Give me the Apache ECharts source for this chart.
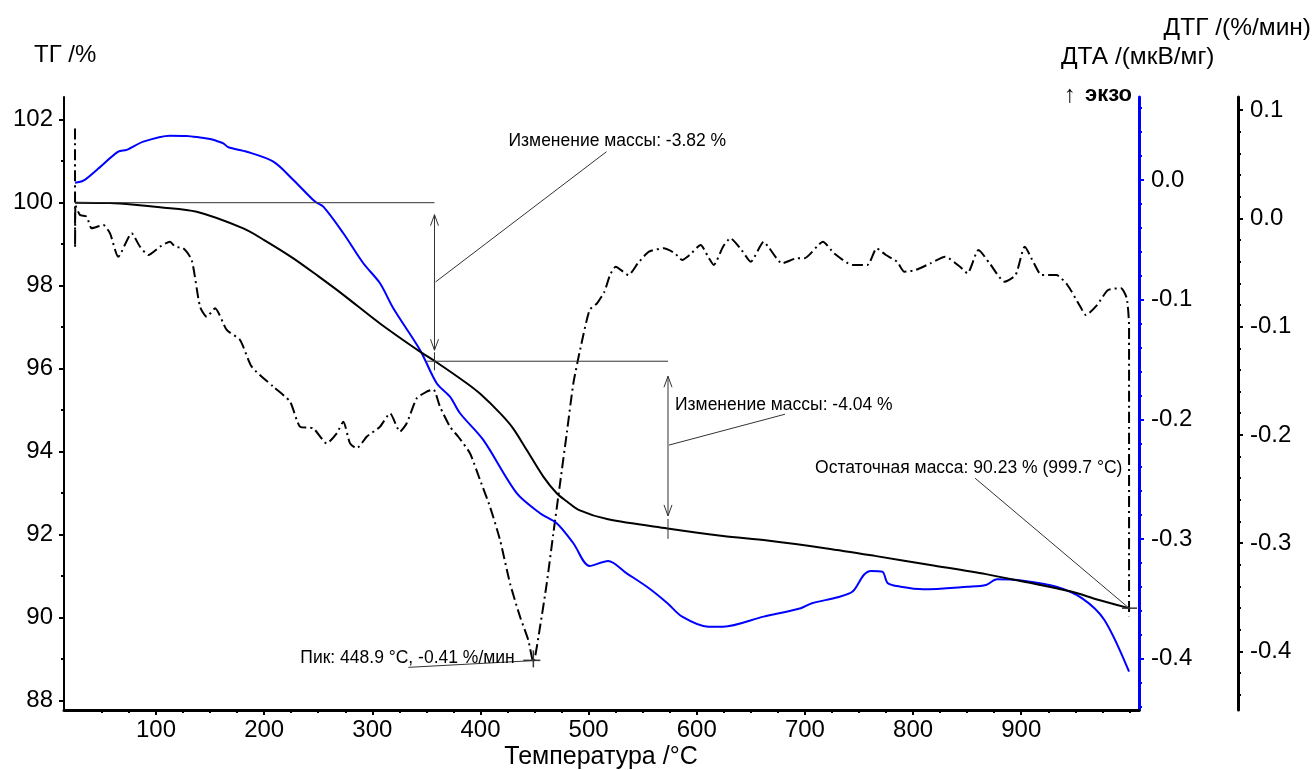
<!DOCTYPE html>
<html><head><meta charset="utf-8">
<script src="https://cdn.jsdelivr.net/npm/echarts@6/dist/echarts.min.js"></script>
<style>html,body{margin:0;padding:0;background:#fff}#c{width:1316px;height:770px}</style>
</head><body><div id="c"></div>
<script>
// ---------- DATA ----------
const xMajorTicks = [100,200,300,400,500,600,700,800,900];
const xMinorTicks = [50,75,125,150,175,225,250,275,325,350,375,425,450,475,525,550,575,625,650,675,725,750,775,825,850,875,925,950,975,1000];
const tgMajorTicks = [88,90,92,94,96,98,100,102];
const tgMinorTicks = [89,91,93,95,97,99,101];
const dtaMajorTicks = [0,-0.1,-0.2,-0.3,-0.4];
const dtaMinorTicks = [0.06,0.04,0.02,-0.02,-0.04,-0.06,-0.08,-0.12,-0.14,-0.16,-0.18,-0.22,-0.24,-0.26,-0.28,-0.32,-0.34,-0.36,-0.38,-0.42,-0.44];
const dtgMajorTicks = [0.1,0,-0.1,-0.2,-0.3,-0.4];
const dtgMinorTicks = [0.08,0.06,0.04,0.02,-0.02,-0.04,-0.06,-0.08,-0.12,-0.14,-0.16,-0.18,-0.22,-0.24,-0.26,-0.28,-0.32,-0.34,-0.36,-0.38,-0.42,-0.44];

// TG, % vs temperature
const tgData = [[25.1,100.0],[57.5,99.99],[80,99.95],[103.7,99.89],[137.6,99.78],[180.7,99.38],[200,99.1],[227,98.66],[250,98.23],[273.2,97.78],[307.1,97.09],[344.1,96.41],[358,96.18],[387.3,95.65],[400,95.39],[418.1,94.93],[430,94.57],[442.8,94.04],[458.1,93.40],[470.5,93.0],[480,92.80],[490.7,92.60],[518,92.37],[572.9,92.15],[624.3,91.97],[665.3,91.86],[720.2,91.67],[764.6,91.49],[816,91.27],[867.4,91.05],[901.7,90.87],[946.1,90.63],[970.1,90.44],[999.7,90.23]];
// DTA, mkV/mg
const dtaData = [[25.1,-0.0023],[32.8,-0.0006],[45.2,0.0084],[65.1,0.0236],[72.9,0.0251],[88.3,0.0320],[112.9,0.0370],[128.4,0.0368],[140.7,0.0355],[150,0.0343],[156.1,0.0326],[162.2,0.0306],[166.9,0.0273],[183.9,0.0236],[208.5,0.0153],[227,0.0],[247,-0.0181],[254.7,-0.0223],[273.2,-0.0445],[291.7,-0.0696],[307.1,-0.0863],[319.4,-0.1072],[344.1,-0.1420],[359.5,-0.1698],[371.8,-0.1810],[381.1,-0.1949],[402.6,-0.2172],[433.5,-0.2617],[455.1,-0.2784],[470.5,-0.2868],[485.9,-0.3035],[500.9,-0.3225],[518,-0.3183],[535.2,-0.3286],[555.8,-0.3411],[572.9,-0.3536],[586.5,-0.3648],[610.5,-0.3732],[624.3,-0.3732],[661.9,-0.3648],[696.1,-0.3578],[706.5,-0.3536],[730.4,-0.3486],[744.1,-0.3439],[754.4,-0.3300],[761.2,-0.3266],[771.5,-0.3272],[776.7,-0.3369],[788.6,-0.3398],[809.2,-0.3419],[850.3,-0.3398],[867.4,-0.3383],[877.6,-0.3336],[901.7,-0.3348],[932.5,-0.3398],[956.4,-0.3495],[976.9,-0.3676],[999.7,-0.4108]];
// DTG, %/min
const dtgData = [[25.1,0.083],[25.2,-0.027],[25.5,0.012],[29.7,0.003],[35.9,0.0015],[40.5,-0.0092],[51.3,-0.0062],[57.5,-0.0139],[65.1,-0.0355],[77.5,-0.0139],[85.2,-0.0262],[92.9,-0.0339],[103.7,-0.0262],[112.9,-0.0216],[117.6,-0.0262],[125.2,-0.0277],[133,-0.0385],[140.7,-0.0816],[146.9,-0.0909],[154.6,-0.0831],[165.4,-0.1031],[177.7,-0.1124],[188.5,-0.1370],[208.5,-0.1555],[223.9,-0.1693],[233.1,-0.1924],[245.4,-0.1939],[257.8,-0.2078],[267.1,-0.1985],[273.2,-0.1878],[279.4,-0.2078],[285.6,-0.2124],[294.8,-0.2017],[307.1,-0.1924],[316.4,-0.1801],[325.6,-0.1970],[331.8,-0.1893],[341.1,-0.1662],[350.3,-0.1601],[356.4,-0.1579],[362.6,-0.1740],[371.8,-0.1924],[379.5,-0.2017],[390.3,-0.2170],[399.6,-0.2416],[408.8,-0.2663],[418.1,-0.2970],[427.3,-0.3370],[436.6,-0.3679],[444.2,-0.3894],[448.9,-0.41],[455.1,-0.3771],[461.3,-0.3370],[467.4,-0.2909],[473.6,-0.2447],[479.8,-0.1985],[485.9,-0.1524],[492.1,-0.1216],[500.9,-0.0847],[507.8,-0.0785],[514.6,-0.0678],[519.8,-0.0524],[525,-0.0447],[536.9,-0.0524],[545.5,-0.0416],[555.8,-0.0308],[569.4,-0.0277],[579.7,-0.0323],[586.5,-0.0385],[593.4,-0.0339],[603.6,-0.0247],[610.5,-0.0355],[615.7,-0.0431],[624.3,-0.0262],[631.1,-0.0185],[641.4,-0.0293],[649.9,-0.0401],[661.9,-0.0216],[667.1,-0.0277],[679,-0.0416],[692.7,-0.0369],[699.5,-0.0369],[716.7,-0.0216],[726.9,-0.0323],[744.1,-0.0431],[757.8,-0.0431],[766.4,-0.0277],[774.9,-0.0339],[785.2,-0.0401],[792,-0.0493],[802.4,-0.0477],[816,-0.0416],[829.7,-0.0355],[843.4,-0.0447],[850.3,-0.0508],[860.5,-0.0293],[870.8,-0.0416],[884.5,-0.0585],[894.8,-0.0524],[903.3,-0.0262],[911.8,-0.0416],[918.8,-0.0524],[932.5,-0.0524],[942.7,-0.0616],[954.7,-0.0816],[959.8,-0.0893],[970.1,-0.0801],[980.3,-0.0662],[992.3,-0.0646],[997.6,-0.0739],[999.7,-0.1001],[999.7,-0.3674]];

// annotations (data coordinates)
const massSteps = [[357.5, 100, 96.18], [573.4, 96.18, 92.14]]; // [T, from, to]
const stepTexts = ['Изменение массы: -3.82 %', 'Изменение массы: -4.04 %'];
const residual = [999.7, 90.23];
const residualText = 'Остаточная масса: 90.23 % (999.7 °C)';
const peak = [448.9, -0.41];
const peakText = 'Пик: 448.9 °C, -0.41 %/мин';

// ---------- CHART ----------
const FONT = '"Liberation Sans", Arial, sans-serif';
const X_MIN = 14.93, X_MAX = 1008.9;
const TG_MIN = 87.776, TG_MAX = 102.547;
const DTA_MIN = -0.4428, DTA_MAX = 0.0693;
const DTG_MIN = -0.454, DTG_MAX = 0.112;

const chart = echarts.init(document.getElementById('c'), null, {renderer: 'canvas'});
const lbl = (extra) => Object.assign({fontSize: 24, color: '#000', fontFamily: FONT}, extra);
const f1 = v => (Math.abs(v) < 1e-9 ? 0 : v).toFixed(1);

function yAx(o) {
  return Object.assign({type: 'value', splitLine: {show: false}, axisLine: {show: true, onZero: false}}, o);
}

chart.setOption({
  animation: false,
  backgroundColor: '#fff',
  grid: {left: 64, right: 177, top: 97, bottom: 60},
  xAxis: [
    {type: 'value', min: X_MIN, max: X_MAX, position: 'bottom', offset: 0,
     axisLine: {onZero: false, lineStyle: {color: '#000', width: 3}},
     axisTick: {customValues: xMajorTicks, length: 5, lineStyle: {color: '#000', width: 2}},
     axisLabel: lbl({customValues: xMajorTicks, margin: 8}),
     splitLine: {show: false}},
    {type: 'value', min: X_MIN, max: X_MAX, position: 'bottom', offset: 0,
     axisLine: {show: false, onZero: false},
     axisTick: {customValues: xMinorTicks, length: 3, lineStyle: {color: '#000', width: 2}},
     axisLabel: {show: false}, splitLine: {show: false}}
  ],
  yAxis: [
    yAx({min: TG_MIN, max: TG_MAX, position: 'left', offset: 0,
      axisLine: {onZero: false, lineStyle: {color: '#000', width: 2}},
      axisTick: {customValues: tgMajorTicks, length: 5, lineStyle: {color: '#000', width: 2}},
      axisLabel: lbl({customValues: tgMajorTicks, margin: 11})}),
    yAx({min: DTA_MIN, max: DTA_MAX, position: 'right', offset: 0,
      axisLine: {onZero: false, lineStyle: {color: '#0000ff', width: 3}},
      axisTick: {customValues: dtaMajorTicks, length: 5, lineStyle: {color: '#0000ff', width: 2}},
      axisLabel: lbl({customValues: dtaMajorTicks, margin: 12, formatter: f1})}),
    yAx({min: DTG_MIN, max: DTG_MAX, position: 'right', offset: 99,
      axisLine: {onZero: false, lineStyle: {color: '#000', width: 3}},
      axisTick: {customValues: dtgMajorTicks, length: 5, lineStyle: {color: '#000', width: 2}},
      axisLabel: lbl({customValues: dtgMajorTicks, margin: 12, formatter: f1})}),
    yAx({min: TG_MIN, max: TG_MAX, position: 'left', offset: 0, axisLine: {show: false, onZero: false},
      axisTick: {customValues: tgMinorTicks, length: 3, lineStyle: {color: '#000', width: 2}}, axisLabel: {show: false}}),
    yAx({min: DTA_MIN, max: DTA_MAX, position: 'right', offset: 0, axisLine: {show: false, onZero: false},
      axisTick: {customValues: dtaMinorTicks, length: 3, lineStyle: {color: '#0000ff', width: 2}}, axisLabel: {show: false}}),
    yAx({min: DTG_MIN, max: DTG_MAX, position: 'right', offset: 99, axisLine: {show: false, onZero: false},
      axisTick: {customValues: dtgMinorTicks, length: 3, lineStyle: {color: '#000', width: 2}}, axisLabel: {show: false}})
  ],
  series: [
    {name: 'ДТА', type: 'line', xAxisIndex: 0, yAxisIndex: 1, data: dtaData, symbol: 'none', smooth: 0.3,
     lineStyle: {color: '#0000ff', width: 2}, z: 3},
    {name: 'ДТГ', type: 'line', xAxisIndex: 0, yAxisIndex: 2, data: dtgData, symbol: 'none', smooth: 0.2,
     lineStyle: {color: '#000', width: 2, type: [11, 4, 2, 4]}, z: 2},
    {name: 'ТГ', type: 'line', xAxisIndex: 0, yAxisIndex: 0, data: tgData, symbol: 'none', smooth: 0.3,
     lineStyle: {color: '#000', width: 2}, z: 4}
  ]
});

// ---------- ANNOTATIONS (positioned through the axes' scales) ----------
const P = (t, v, yi) => chart.convertToPixel({xAxisIndex: 0, yAxisIndex: yi || 0}, [t, v]);
const G = [];
const LC = '#333';
function ln(x1, y1, x2, y2, w) { G.push({type: 'line', silent: true, z: 100, shape: {x1, y1, x2, y2}, style: {stroke: LC, lineWidth: w || 1}}); }
function head(x, y, dir) { // dir -1: points up, +1: points down
  G.push({type: 'polyline', silent: true, z: 100, shape: {points: [[x - 4, y - dir * 11], [x, y], [x + 4, y - dir * 11]]}, style: {stroke: LC, lineWidth: 1, fill: null}});
}
function txt(x, y, s, size, align, weight) {
  G.push({type: 'text', silent: true, z: 101, x, y, style: {text: s, fontSize: size || 17.5, fontFamily: FONT, fontWeight: weight || 'normal', fill: '#000', align: align || 'left', verticalAlign: 'middle'}});
}
function dblArrow(x, yTop, yBot) { ln(x, yTop, x, yBot); head(x, yTop, -1); head(x, yBot, 1); }

// step 1
const s1a = P(25.1, massSteps[0][1]), s1top = P(massSteps[0][0], massSteps[0][1]), s1bot = P(massSteps[0][0], massSteps[0][2]);
ln(s1a[0], s1a[1], s1top[0], s1top[1]);
dblArrow(s1top[0], s1top[1] + 12, s1bot[1] - 11);
ln(s1bot[0], s1bot[1] - 9, s1bot[0], s1bot[1] + 9);
const m1 = (s1top[1] + s1bot[1]) / 2;
ln(s1top[0] + 1, m1, s1top[0] + 172, s1top[1] - 51);
txt(s1top[0] + 74, s1top[1] - 62, stepTexts[0]);
// step 2
const s2top = P(massSteps[1][0], massSteps[1][1]), s2bot = P(massSteps[1][0], massSteps[1][2]);
ln(s1bot[0] - 8, s1bot[1], s2top[0], s2top[1]);
dblArrow(s2top[0], s2top[1] + 15, s2bot[1] - 13);
ln(s2bot[0], s2bot[1] - 10, s2bot[0], s2bot[1] + 10);
const m2 = (s2top[1] + s2bot[1]) / 2;
ln(s2top[0] + 1, m2, s2top[0] + 117, s2top[1] + 53);
txt(s2top[0] + 7, s2top[1] + 44, stepTexts[1]);
// residual
const r = P(residual[0], residual[1]);
ln(r[0] - 154, r[1] - 130, r[0], r[1]);
ln(r[0] - 7, r[1], r[0] + 8, r[1], 1.5);
txt(r[0] - 314, r[1] - 140, residualText);
// peak
const pk = P(peak[0], peak[1], 2);
ln(pk[0] - 125, pk[1] + 5, pk[0] + 5, pk[1] - 2);
ln(pk[0] - 10, pk[1] - 2, pk[0] + 7, pk[1] - 2, 1.5);
ln(pk[0], pk[1] - 12, pk[0], pk[1] + 5, 1.5);
txt(pk[0] - 233, pk[1] - 4, peakText);

// axis titles
txt(34, 55, 'ТГ /%', 24);
txt(1311, 28, 'ДТГ /(%/мин)', 24.5);
G[G.length - 1].style.align = 'right';
txt(1061, 57, 'ДТА /(мкВ/мг)', 24.5);
txt(1064, 95, '↑', 24);
txt(1085, 95, 'экзо', 22, 'left', 'bold');
txt(601, 757, 'Температура /°C', 25, 'center');

chart.setOption({graphic: G});
</script></body></html>
